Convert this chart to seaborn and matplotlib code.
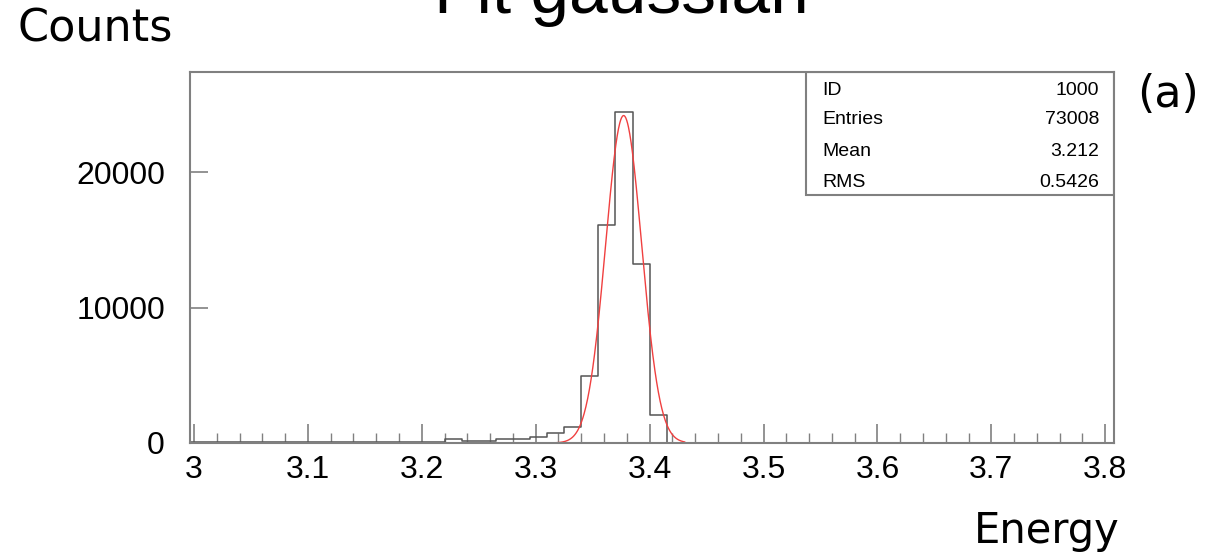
import numpy as np
import pandas as pd
import seaborn as sns
import matplotlib.pyplot as plt
from matplotlib.patches import Rectangle
from matplotlib.ticker import MultipleLocator, FormatStrFormatter

# histogram: 54 bins of width 0.015 starting at 2.995
bin_start = 2.995
bin_width = 0.015
counts = [60, 50, 50, 60, 50, 50, 60, 60, 50, 60, 60, 70, 60, 70, 80,
          280, 120, 130, 280, 300, 480, 720, 1200, 4930, 16100, 24500,
          13250, 2070,
          10, 0, 0, 0, 0, 0, 0, 0, 0, 0, 0, 0, 0, 0, 0, 0, 0, 0, 0, 0,
          0, 0, 0, 0, 0, 0]

# gaussian fit parameters and fit range
fit_amp = 24200
fit_mean = 3.3772
fit_sigma = 0.0158
fit_range = (3.317, 3.431)

stat_names = ['ID', 'Entries', 'Mean', 'RMS']
stat_values = ['1000', '73008', '3.212', '0.5426']

n_bins = len(counts)
bin_end = bin_start + bin_width * n_bins
centers = bin_start + bin_width * (np.arange(n_bins) + 0.5)
df = pd.DataFrame({'energy': centers, 'counts': counts})

fx = np.linspace(fit_range[0], fit_range[1], 300)
fit_df = pd.DataFrame({'energy': fx,
                       'fit': fit_amp * np.exp(-0.5 * ((fx - fit_mean) / fit_sigma) ** 2)})

sns.set_style('white')
plt.rcParams['font.family'] = ['Liberation Sans', 'DejaVu Sans']
plt.rcParams['text.color'] = 'black'
plt.rcParams['xtick.labelcolor'] = 'black'
plt.rcParams['ytick.labelcolor'] = 'black'

fig = plt.figure(figsize=(12.07, 5.56), dpi=100)
ax = fig.add_axes([190 / 1207, 1 - 443 / 556, 924 / 1207, 371 / 556])

sns.histplot(data=df, x='energy', weights='counts', bins=n_bins,
             binrange=(bin_start, bin_end), element='step',
             fill=False, color='#555555', linewidth=1.1, ax=ax)
sns.lineplot(data=fit_df, x='energy', y='fit', color='#f04040', linewidth=1.0, ax=ax)

ax.set_xlim(2.9965, 3.8077)
ax.set_ylim(0, 27420)
ax.set_xlabel('')
ax.set_ylabel('')

for s in ax.spines.values():
    s.set_color('#808080')
    s.set_linewidth(1.5)

ax.xaxis.set_major_locator(MultipleLocator(0.1))
ax.xaxis.set_minor_locator(MultipleLocator(0.02))
ax.yaxis.set_major_locator(MultipleLocator(10000))
ax.xaxis.set_major_formatter(FormatStrFormatter('%g'))
ax.tick_params(axis='x', which='major', direction='in', length=14, width=1.2,
               color='#808080', labelsize=23, pad=9, bottom=True)
ax.tick_params(axis='x', which='minor', direction='in', length=7, width=1.0,
               color='#808080', bottom=True)
ax.tick_params(axis='y', which='major', direction='in', length=13, width=1.2,
               color='#808080', labelsize=23, pad=18, left=True)

# stats box
ax.add_patch(Rectangle((0.667, 0.668), 0.333, 0.332, transform=ax.transAxes,
                       fill=False, edgecolor='#808080', linewidth=1.5, zorder=5))
row_y = [0.951, 0.871, 0.785, 0.701]
for name, val, yy in zip(stat_names, stat_values, row_y):
    ax.text(0.6847, yy, name, transform=ax.transAxes, fontsize=14, va='center', ha='left')
    ax.text(0.9837, yy, val, transform=ax.transAxes, fontsize=14, va='center', ha='right')

fig.text(621 / 1207, 1 - 13 / 556, 'Fit gaussian', fontsize=50, ha='center', va='baseline')
fig.text(18 / 1207, 1 - 42 / 556, 'Counts', fontsize=32, family='DejaVu Sans',
         ha='left', va='baseline')
fig.text(1120 / 1207, 1 - 543 / 556, 'Energy', fontsize=30, family='DejaVu Sans',
         ha='right', va='baseline')
fig.text(1168 / 1207, 1 - 94 / 556, '(a)', fontsize=32, family='DejaVu Sans',
         ha='center', va='center')

fig.savefig('out.png', dpi=100)
